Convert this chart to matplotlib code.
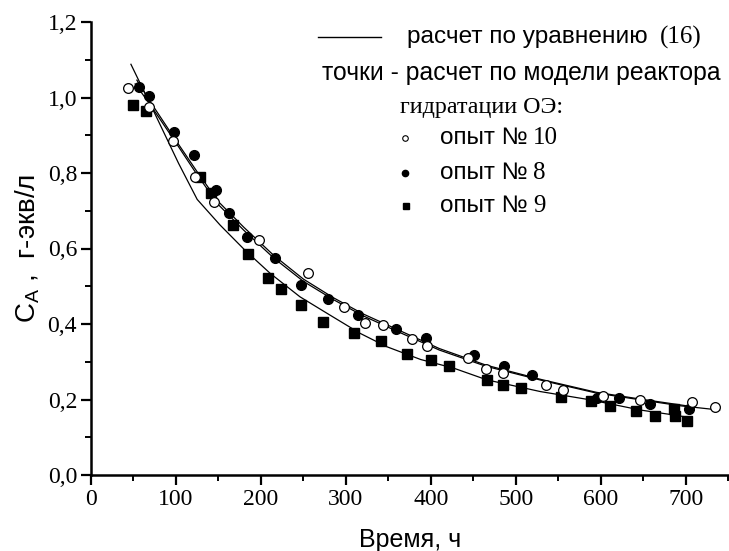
import matplotlib
matplotlib.use('Agg')
import matplotlib.pyplot as plt
from matplotlib.ticker import MultipleLocator, FixedLocator, FixedFormatter

# --- data ---
# опыт № 10 (open circles)
t10 = [44, 68, 96, 122.5, 145, 197.5, 255, 298, 323, 344, 378, 395, 443.5,
       465, 485, 535, 556, 603, 646, 707.5, 735]
c10 = [1.025, 0.976, 0.885, 0.789, 0.724, 0.622, 0.534, 0.444, 0.403, 0.397,
       0.359, 0.342, 0.310, 0.282, 0.269, 0.238, 0.225, 0.209, 0.200, 0.194, 0.179]

# опыт № 8 (filled circles)
t8 = [56.5, 68.3, 98, 121.5, 146.8, 162, 183.5, 216.7, 247, 278.4, 314, 359,
      394.6, 450.5, 486.5, 519, 596, 621, 658, 703.5]
c8 = [1.029, 1.005, 0.908, 0.848, 0.755, 0.693, 0.630, 0.574, 0.503, 0.465,
      0.424, 0.386, 0.362, 0.318, 0.289, 0.265, 0.203, 0.203, 0.188, 0.174]

# опыт № 9 (squares)
t9 = [49.8, 64.4, 128.4, 141, 167.6, 185.3, 208.9, 223.4, 247, 273.6, 309, 341,
      371.8, 400, 421.5, 466, 485, 506, 553, 588.6, 611, 642, 664, 686, 688, 701]
c9 = [0.980, 0.964, 0.790, 0.746, 0.662, 0.585, 0.521, 0.492, 0.450, 0.406,
      0.377, 0.356, 0.321, 0.305, 0.290, 0.252, 0.238, 0.230, 0.207, 0.197,
      0.183, 0.170, 0.156, 0.174, 0.156, 0.144]

# расчет по уравнению (16): curves
fit_t10 = [52, 70, 100, 125, 150, 180, 215, 250, 285, 320, 360, 410, 465,
           530, 595, 650, 695, 740]
fit_c10 = [1.036, 0.980, 0.880, 0.795, 0.716, 0.648, 0.575, 0.513, 0.465, 0.422,
           0.381, 0.331, 0.288, 0.251, 0.217, 0.198, 0.183, 0.172]
fit_t8 = [54, 70, 100, 125, 150, 180, 215, 250, 285, 320, 360, 410, 465,
          530, 595, 650, 705]
fit_c8 = [1.046, 0.988, 0.886, 0.803, 0.724, 0.656, 0.582, 0.519, 0.470, 0.427,
          0.386, 0.335, 0.291, 0.253, 0.219, 0.200, 0.182]
fit_t9 = [47, 75, 103, 125, 152, 181, 211, 246, 281, 317, 348, 388, 427, 466,
          529, 588, 647, 686, 705]
fit_c9 = [1.088, 0.958, 0.826, 0.730, 0.662, 0.596, 0.534, 0.472, 0.424, 0.375,
          0.340, 0.306, 0.283, 0.252, 0.221, 0.199, 0.172, 0.159, 0.152]

xticks = [0, 100, 200, 300, 400, 500, 600, 700]
yticks = [0.0, 0.2, 0.4, 0.6, 0.8, 1.0, 1.2]
ytick_labels = ['0,0', '0,2', '0,4', '0,6', '0,8', '1,0', '1,2']

W, H = 729, 551
fig = plt.figure(figsize=(W / 100, H / 100), dpi=100)
ax = fig.add_axes([91 / W, 1 - 475 / H, 1 - 91 / W, (475 - 22) / H])

lw = 0.9
ax.plot(fit_t10, fit_c10, color='black', lw=lw)
ax.plot(fit_t8, fit_c8, color='black', lw=lw)
ax.plot(fit_t9, fit_c9, color='black', lw=lw)

ax.plot(t9, c9, 's', color='black', ms=6.5, clip_on=False)
ax.plot(t8, c8, 'o', color='black', ms=7, clip_on=False)
ax.plot(t10, c10, 'o', mfc='white', mec='black', mew=0.9, ms=7, clip_on=False)

ax.set_xlim(0, 751)
ax.set_ylim(0, 1.2)
ax.spines['top'].set_visible(False)
ax.spines['right'].set_visible(False)
for s in ('left', 'bottom'):
    ax.spines[s].set_linewidth(1.8)

ax.xaxis.set_major_locator(FixedLocator(xticks))
ax.xaxis.set_minor_locator(MultipleLocator(50))
ax.yaxis.set_major_locator(FixedLocator(yticks))
ax.yaxis.set_major_formatter(FixedFormatter(ytick_labels))
ax.yaxis.set_minor_locator(MultipleLocator(0.1))
ax.tick_params(which='major', direction='out', length=7, width=1.6,
               labelsize=17, pad=3)
ax.tick_params(which='minor', direction='out', length=4, width=1.4)
for lab in ax.get_xticklabels() + ax.get_yticklabels():
    lab.set_family('Liberation Serif')

ax.set_xlabel('Время, ч', family='Liberation Sans', fontsize=18, labelpad=13)
ax.set_ylabel(r'$\mathregular{C_A}$ ,  г-экв/л', family='Liberation Sans',
              fontsize=20, labelpad=4)


def fx(x):
    return x / W


def fy(y):
    return 1 - y / H


sans = 'Liberation Sans'
serif = 'Liberation Serif'

# legend drawn as free text
ax.plot([fx(318), fx(381)], [fy(37), fy(37)], color='black', lw=1.0,
        transform=fig.transFigure, clip_on=False)
fig.text(fx(407), fy(37), 'расчет по уравнению', family=sans, fontsize=17.6,
         va='center', ha='left')
fig.text(fx(660), fy(37), '(16)', family=serif, fontsize=18,
         va='center', ha='left')
fig.text(fx(322), fy(73), 'точки - расчет по модели реактора', family=sans,
         fontsize=17.8, va='center', ha='left')
fig.text(fx(400), fy(107), 'гидратации ОЭ:', family=serif, fontsize=17.3,
         va='center', ha='left')

ax.plot([fx(405)], [fy(138)], 'o', mfc='white', mec='black', mew=0.8, ms=4,
        transform=fig.transFigure, clip_on=False)
ax.plot([fx(405)], [fy(173)], 'o', color='black', ms=4.5,
        transform=fig.transFigure, clip_on=False)
ax.plot([fx(406)], [fy(206)], 's', color='black', ms=4.5,
        transform=fig.transFigure, clip_on=False)
for y, n in [(138, '10'), (173, '8'), (206, '9')]:
    fig.text(fx(440), fy(y), 'опыт №', family=sans, fontsize=17.5,
             va='center', ha='left')
    fig.text(fx(533), fy(y), n, family=serif, fontsize=18,
             va='center', ha='left')

fig.savefig('out.png', dpi=100)
